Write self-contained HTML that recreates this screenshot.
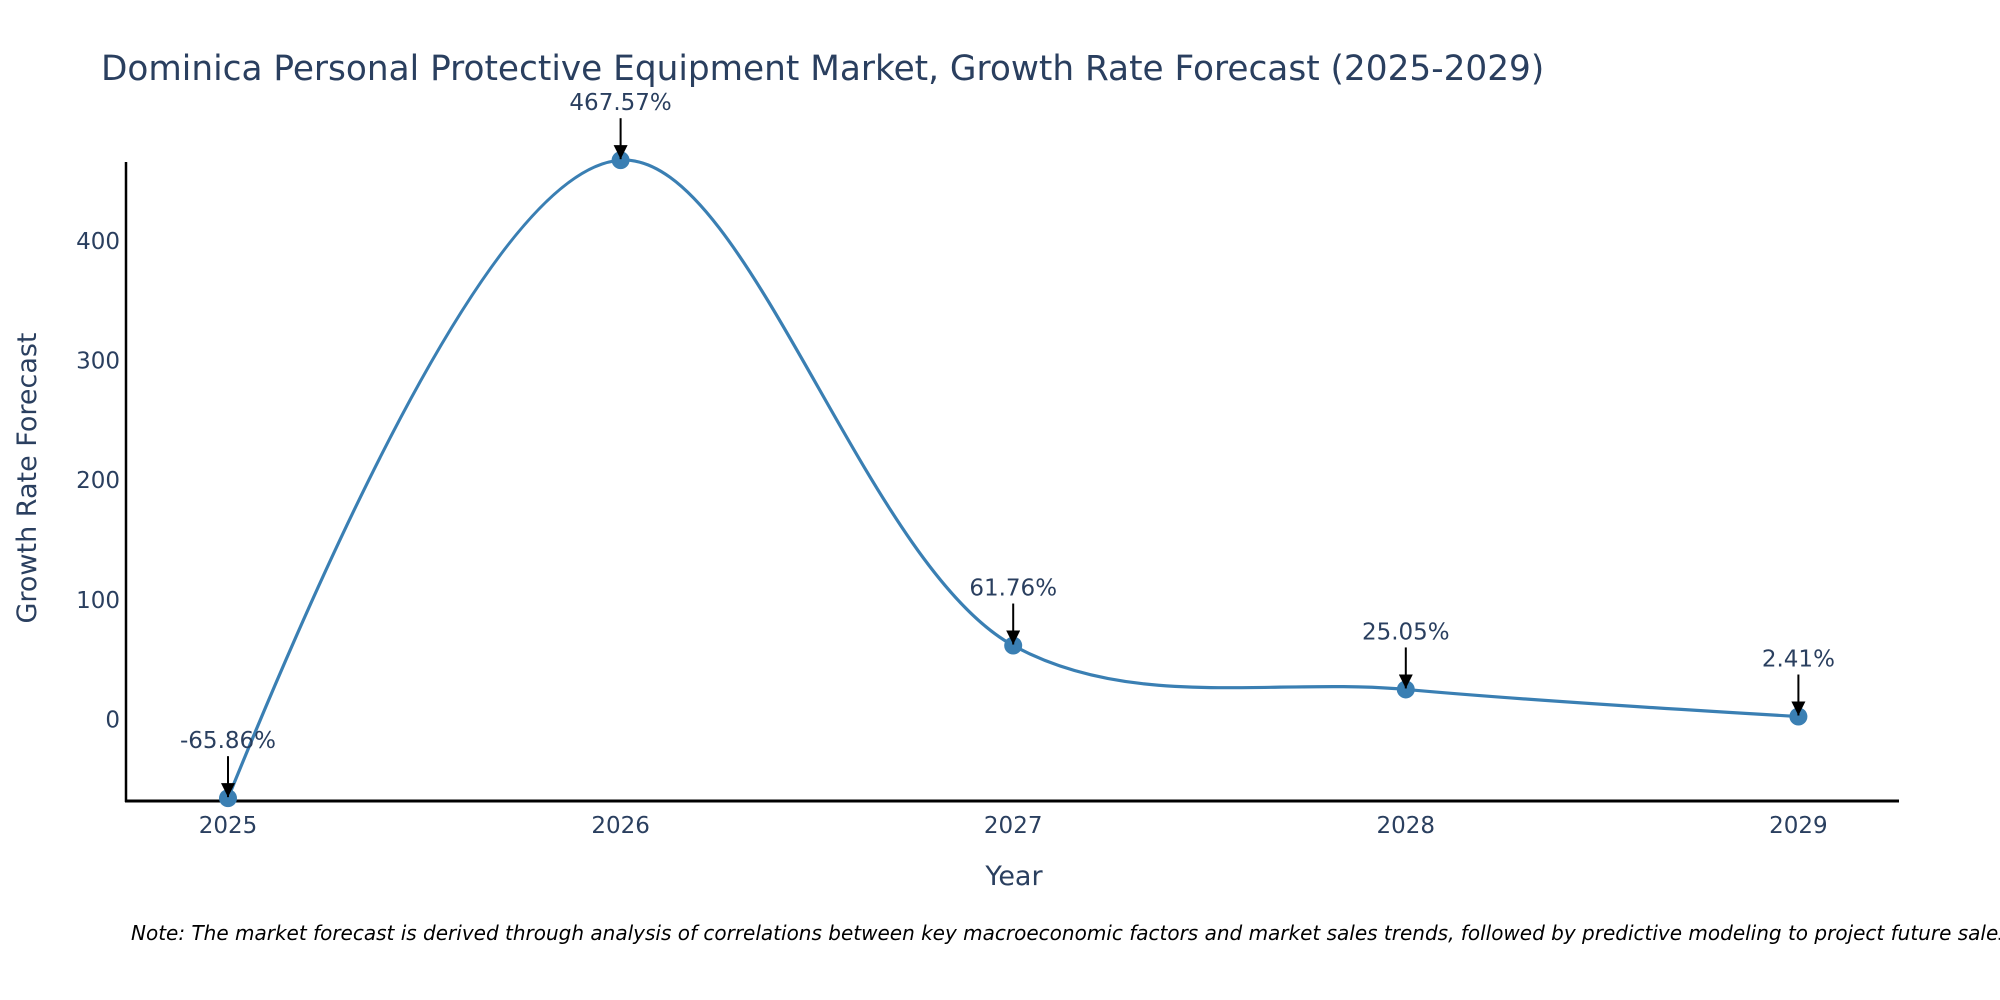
<!DOCTYPE html>
<html><head><meta charset="utf-8"><style>
html,body{margin:0;padding:0;background:#fff;}
svg{display:block;font-family:"DejaVu Sans","Liberation Sans",sans-serif;}
</style></head><body>
<svg id="chart" width="2000" height="1000" viewBox="0 0 2000 1000">
<defs>
<marker id="ah" viewBox="0 0 10 10" refX="10" refY="5" markerWidth="7" markerHeight="7" orient="auto"><path d="M0,0 L10,5 L0,10 z" fill="#000"/></marker>
</defs>
<text x="101" y="80" font-size="34.3" fill="#2a3f5f">Dominica Personal Protective Equipment Market, Growth Rate Forecast (2025-2029)</text>
<g id="yticks"></g>
<g id="xticks"></g>
<line x1="126" y1="162" x2="126" y2="802" stroke="#000" stroke-width="2.5"/>
<line x1="125" y1="801" x2="1899" y2="801" stroke="#000" stroke-width="3"/>
<path id="line" fill="none" stroke="#3a7fb3" stroke-width="3.2"/>
<g id="points"></g>
<g id="annots"></g>
<text transform="translate(36,478) rotate(-90)" text-anchor="middle" font-size="27" fill="#2a3f5f">Growth Rate Forecast</text>
<text x="1014" y="885" text-anchor="middle" font-size="27" fill="#2a3f5f">Year</text>
<text x="131" y="940" font-size="20" font-style="italic" fill="#000">Note: The market forecast is derived through analysis of correlations between key macroeconomic factors and market sales trends, followed by predictive modeling to project future sales.</text>
</svg>
<script>
const years = [2025, 2026, 2027, 2028, 2029];
const values = [-65.86, 467.57, 61.76, 25.05, 2.41];
const labels = ["-65.86%", "467.57%", "61.76%", "25.05%", "2.41%"];
const yTicks = [0, 100, 200, 300, 400];

const NS = "http://www.w3.org/2000/svg";
function xs(v){ return 228 + (v - 2025) * 392.6; }
function ys(v){ return 719.4 - v * 1.196; }
function mk(tag, attrs, parent){ const e = document.createElementNS(NS, tag); for (const k in attrs) e.setAttribute(k, attrs[k]); parent.appendChild(e); return e; }

const yg = document.getElementById('yticks');
yTicks.forEach(t => {
  const e = mk('text', {x: 120, y: ys(t) + 8, 'text-anchor': 'end', 'font-size': 23, fill: '#2a3f5f'}, yg);
  
  
  e.textContent = t;
});
const xg = document.getElementById('xticks');
years.forEach(y => {
  const e = mk('text', {x: xs(y), y: 833, 'text-anchor': 'middle', 'font-size': 23, fill: '#2a3f5f'}, xg);
  
  
  e.textContent = y;
});

const pts = years.map((y, i) => [xs(y), ys(values[i])]);
function tangent(p0, p1, p2, s){
  const d1x = p0[0]-p1[0], d1y = p0[1]-p1[1], d2x = p2[0]-p1[0], d2y = p2[1]-p1[1];
  const d1a = Math.pow(d1x*d1x + d1y*d1y, 0.25), d2a = Math.pow(d2x*d2x + d2y*d2y, 0.25);
  const nx = (d2a*d2a*d1x - d1a*d1a*d2x) * s, ny = (d2a*d2a*d1y - d1a*d1a*d2y) * s;
  const den1 = 3*d2a*(d1a+d2a), den2 = 3*d1a*(d1a+d2a);
  return [[p1[0] + nx/den1, p1[1] + ny/den1], [p1[0] - nx/den2, p1[1] - ny/den2]];
}
const tg = [];
for (let i = 1; i < pts.length - 1; i++) tg.push(tangent(pts[i-1], pts[i], pts[i+1], 1));
let d = 'M' + pts[0] + 'Q' + tg[0][0] + ' ' + pts[1];
for (let i = 2; i < pts.length - 1; i++) d += 'C' + tg[i-2][1] + ' ' + tg[i-1][0] + ' ' + pts[i];
d += 'Q' + tg[pts.length-3][1] + ' ' + pts[pts.length-1];
document.getElementById('line').setAttribute('d', d);

const pg = document.getElementById('points');
const ag = document.getElementById('annots');
pts.forEach((p, i) => {
  const c = mk('circle', {cx: p[0], cy: p[1], r: 9, fill: '#3a7fb3'}, pg);
  
  
  const a = mk('line', {x1: p[0], y1: p[1] - 42, x2: p[0], y2: p[1] - 1, stroke: '#000', 'stroke-width': 2, 'marker-end': 'url(#ah)'}, ag);
  
  
  const t = mk('text', {x: p[0], y: p[1] - 50, 'text-anchor': 'middle', 'font-size': 23, fill: '#2a3f5f'}, ag);
  
  
  t.textContent = labels[i];
});
</script>
</body></html>
